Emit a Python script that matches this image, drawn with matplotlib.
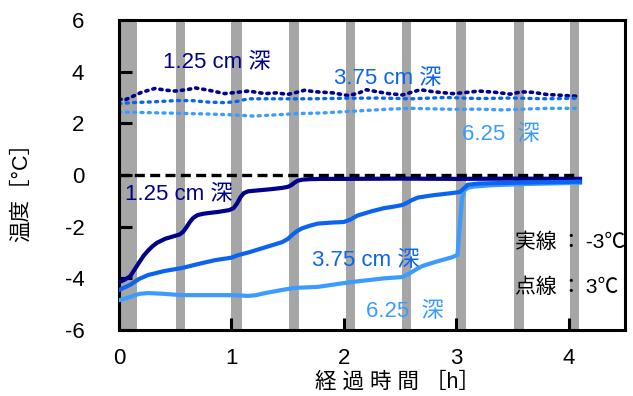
import matplotlib
matplotlib.use("Agg")
import matplotlib.pyplot as plt

plt.rcParams['font.family'] = ['Liberation Sans', 'Noto Sans CJK JP', 'DejaVu Sans']
plt.rcParams['axes.unicode_minus'] = False

# ---- data (hours, °C) ----
# solid lines: -3°C
t_d_solid = [0, 0.05, 0.1, 0.14, 0.18, 0.22, 0.26, 0.3, 0.34, 0.41, 0.48, 0.54, 0.57, 0.6, 0.63, 0.66, 0.7, 0.75,
             0.8, 0.88, 0.98, 1.02, 1.05, 1.08, 1.11, 1.15, 1.25, 1.35, 1.45, 1.5, 1.53, 1.56, 1.59, 1.63,
             1.7, 1.8, 2.0, 2.5, 3.0, 3.5, 4.1]
v_d_solid = [-4.15, -4.05, -3.92, -3.65, -3.38, -3.12, -2.92, -2.75, -2.62, -2.47, -2.38, -2.3, -2.2, -2.02, -1.82,
             -1.66, -1.55, -1.5, -1.47, -1.43, -1.36, -1.28, -1.1, -0.86, -0.7, -0.63, -0.59, -0.55, -0.5, -0.46,
             -0.4, -0.3, -0.22, -0.18, -0.16, -0.15, -0.15, -0.14, -0.15, -0.14, -0.15]

t_m_solid = [0, 0.1, 0.18, 0.26, 0.4, 0.56, 0.7, 0.85, 1.0, 1.06, 1.15, 1.3, 1.45, 1.5, 1.54, 1.58, 1.63, 1.7,
             1.77, 1.9, 2.0, 2.06, 2.12, 2.25, 2.36, 2.45, 2.52, 2.56, 2.6, 2.66, 2.8, 2.96, 3.03, 3.06, 3.1,
             3.2, 3.5, 3.8, 4.1]
v_m_solid = [-4.45, -4.25, -4.02, -3.87, -3.72, -3.6, -3.45, -3.3, -3.2, -3.1, -3.0, -2.8, -2.6, -2.48, -2.32,
             -2.18, -2.06, -1.96, -1.88, -1.84, -1.82, -1.72, -1.57, -1.4, -1.28, -1.22, -1.16, -1.08, -0.98,
             -0.87, -0.78, -0.7, -0.66, -0.55, -0.38, -0.33, -0.3, -0.28, -0.26]

t_l_solid = [0, 0.1, 0.18, 0.26, 0.4, 0.55, 0.7, 0.85, 1.0, 1.15, 1.22, 1.3, 1.45, 1.56, 1.77, 2.07, 2.36,
             2.52, 2.58, 2.64, 2.7, 2.81, 2.95, 3.01, 3.03, 3.05, 3.07, 3.1, 3.15, 3.3, 3.6, 3.9, 4.1]
v_l_solid = [-4.85, -4.72, -4.6, -4.57, -4.6, -4.65, -4.65, -4.65, -4.65, -4.68, -4.65, -4.57, -4.45, -4.37,
             -4.33, -4.14, -4.0, -3.95, -3.82, -3.66, -3.52, -3.37, -3.2, -3.1, -2.0, -0.9, -0.6, -0.5, -0.45,
             -0.4, -0.35, -0.32, -0.3]

# dotted lines: 3°C
t_d_dot = [0, 0.05, 0.1, 0.2, 0.32, 0.42, 0.5, 0.6, 0.68, 0.8, 0.94, 1.05, 1.15, 1.3, 1.4, 1.5, 1.58, 1.65,
           1.75, 1.9, 2.03, 2.12, 2.2, 2.3, 2.4, 2.52, 2.6, 2.68, 2.8, 2.97, 3.1, 3.2, 3.35, 3.48, 3.58, 3.68,
           3.8, 3.95, 4.07]
v_d_dot = [2.95, 2.9, 3.0, 3.2, 3.35, 3.28, 3.25, 3.3, 3.37, 3.28, 3.15, 3.2, 3.25, 3.15, 3.18, 3.12, 3.2, 3.28,
           3.22, 3.18, 3.08, 3.15, 3.3, 3.22, 3.15, 3.1, 3.2, 3.3, 3.22, 3.15, 3.2, 3.25, 3.2, 3.13, 3.22, 3.2,
           3.12, 3.08, 3.05]

t_m_dot = [0, 0.1, 0.3, 0.5, 0.65, 0.8, 0.95, 1.05, 1.15, 1.4, 1.7, 2.0, 2.3, 2.6, 2.9, 3.2, 3.5, 3.8, 4.07]
v_m_dot = [2.75, 2.8, 2.83, 2.88, 2.88, 2.82, 2.8, 2.85, 2.95, 2.95, 2.95, 2.97, 2.98, 2.95, 3.0, 2.96, 2.98, 2.95, 2.97]

t_l_dot = [0, 0.2, 0.42, 0.6, 0.8, 1.0, 1.2, 1.4, 1.6, 1.8, 2.0, 2.2, 2.4, 2.6, 2.8, 3.0, 3.2, 3.4, 3.6, 3.8, 4.07]
v_l_dot = [2.44, 2.42, 2.4, 2.38, 2.36, 2.33, 2.28, 2.33, 2.38, 2.4, 2.45, 2.5, 2.55, 2.58, 2.56, 2.54, 2.55, 2.52,
           2.55, 2.58, 2.58]

band_starts = [-0.1, 0.51, 1.0, 1.51, 2.02, 2.52, 3.0, 3.51, 4.01]
band_ends = [0.16, 0.59, 1.09, 1.6, 2.1, 2.6, 3.09, 3.6, 4.09]

x_ticks = [0, 1, 2, 3, 4]
y_ticks = [-6, -4, -2, 0, 2, 4, 6]

C_DARK = '#00008b'
C_MID = '#0a64f0'
C_LIGHT = '#3a9cff'

fig = plt.figure(figsize=(6.33, 3.96), dpi=100)
ax = fig.add_axes([119/633, 66/396, 506/633, 310/396])

for s, e in zip(band_starts, band_ends):
    ax.axvspan(s, e, color='#a6a6a6', lw=0, zorder=0)

ax.plot(t_d_dot, v_d_dot, ls=(0, (0.6, 1.4)), color=C_DARK, lw=2.6, zorder=2, dash_capstyle='round')
ax.plot(t_m_dot, v_m_dot, ls=(0, (0.6, 1.6)), color=C_MID, lw=2.4, zorder=2, dash_capstyle='round')
ax.plot(t_l_dot, v_l_dot, ls=(0, (0.6, 1.6)), color=C_LIGHT, lw=2.4, zorder=2, dash_capstyle='round')

ax.plot(t_d_solid, v_d_solid, color=C_DARK, lw=3.0, zorder=3, solid_joinstyle='round')
ax.plot(t_l_solid, v_l_solid, color=C_LIGHT, lw=3.0, zorder=3, solid_joinstyle='round')
ax.plot(t_m_solid, v_m_solid, color=C_MID, lw=3.0, zorder=3, solid_joinstyle='round')

ax.plot([0, 4.05], [0, 0], color='black', lw=2.4, dashes=(3, 1.6), zorder=5)

fs = 16
ax.text(0.87, 4.37, '1.25 cm 深', color=C_DARK, fontsize=fs, ha='center', va='center', zorder=6)
ax.text(2.39, 3.75, '3.75 cm 深', color=C_MID, fontsize=fs, ha='center', va='center', zorder=6)
ax.text(3.4, 1.55, '6.25  深', color=C_LIGHT, fontsize=fs, ha='center', va='center', zorder=6)
ax.text(0.53, -0.74, '1.25 cm 深', color=C_DARK, fontsize=fs, ha='center', va='center', zorder=6)
ax.text(2.19, -3.3, '3.75 cm 深', color=C_MID, fontsize=fs, ha='center', va='center', zorder=6)
ax.text(2.54, -5.27, '6.25  深', color=C_LIGHT, fontsize=fs, ha='center', va='center', zorder=6)
ax.text(3.52, -2.6, '実線\u2009：\u2009-3℃', color='black', fontsize=15, ha='left', va='center', zorder=6)
ax.text(3.52, -4.34, '点線\u2009：\u20093℃', color='black', fontsize=15, ha='left', va='center', zorder=6)

ax.set_xlim(0, 4.5)
ax.set_ylim(-6, 6)
ax.set_xticks(x_ticks)
ax.set_yticks(y_ticks)
ax.tick_params(axis='both', direction='in', length=9, width=2.2, labelsize=16, colors='black')
ax.tick_params(axis='y', pad=25)
ax.tick_params(axis='x', pad=13)
for sp in ax.spines.values():
    sp.set_linewidth(2.2)
    sp.set_color('black')

fig.text(397/633, 1 - 382/396, '経 過 時 間 ［h］', fontsize=15.5, ha='center', va='center')
fig.text(21/633, 1 - 187/396, '温度［°C］', fontsize=15.5, ha='center', va='center', rotation=90)

fig.savefig('out.png', dpi=100)
